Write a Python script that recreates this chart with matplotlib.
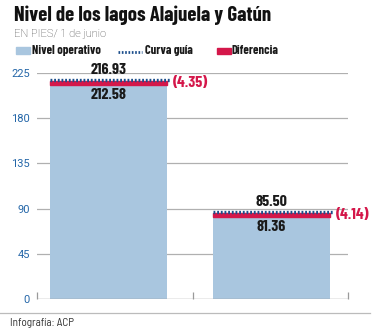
import matplotlib
matplotlib.use("Agg")
import matplotlib.pyplot as plt
from matplotlib.patches import Rectangle
from matplotlib.lines import Line2D

title = "Nivel de los lagos Alajuela y Gatún"
subtitle = "EN PIES/ 1 de junio"
source = "Infografía: ACP"
lakes = ["Alajuela", "Gatún"]
nivel_operativo = [212.58, 81.36]
curva_guia = [216.93, 85.50]
diferencia_labels = ["(4.35)", "(4.14)"]
yticks = [0, 45, 90, 135, 180, 225]
legend_labels = ["Nivel operativo", "Curva guía", "Diferencia"]

BLUE_BAR = "#a9c6df"
RED = "#d4174a"
DOT = "#1d4f8c"
TICK_BLUE = "#2466a8"
COND = ["Barlow Condensed", "DejaVu Sans"]
SANS = ["Roboto", "DejaVu Sans"]

fig = plt.figure(figsize=(3.75, 3.31), dpi=100)
W, H = 375, 331
ax = fig.add_axes([37 / W, 32 / H, 311 / W, 226 / H])

xpos = [0, 1]
width = 0.718
xl0, xl1 = -0.439, 1.469
ax.set_xlim(xl0, xl1)
ax.set_ylim(0, 225)

for y in yticks[1:]:
    ax.axhline(y, color="#b0b0b0", lw=0.9, zorder=0)
ax.axhline(0, color="#9a9a9a", lw=1.0, zorder=3)

ax.bar(xpos, nivel_operativo, width=width, color=BLUE_BAR, zorder=2)
diff = [c - n for c, n in zip(curva_guia, nivel_operativo)]
ax.bar(xpos, diff, bottom=nivel_operativo, width=width, color=RED,
       edgecolor=RED, linewidth=1.0, zorder=2)
for x, c, n, dl in zip(xpos, curva_guia, nivel_operativo, diferencia_labels):
    ax.plot([x - width / 2, x + width / 2 + 0.02], [c + 1.3, c + 1.3], color=DOT,
            lw=2.4, ls=(0, (0.55, 0.55)), solid_capstyle="butt",
            dash_capstyle="butt", zorder=4, clip_on=False)
    ax.text(x, c + 4, f"{c:.2f}", ha="center", va="bottom", fontsize=11.5,
            fontweight="bold", family=COND, color="#1a1a1a", clip_on=False)
    ax.text(x, n - 3, f"{n:.2f}", ha="center", va="top", fontsize=11.5,
            fontweight="bold", family=COND, color="#1a1a1a")
    ax.text(x + width / 2 + 0.035, (c + n) / 2, dl, ha="left", va="center",
            fontsize=11.5, fontweight="bold", family=COND, color=RED, clip_on=False)

for s in ax.spines.values():
    s.set_visible(False)
ax.set_yticks(yticks)
ax.set_yticklabels([str(v) for v in yticks], fontsize=8, color=TICK_BLUE,
                   family=SANS)
ax.tick_params(axis="y", length=0, pad=5)
ax.set_xticks([xl0 + 0.003, 0.518, xl1 - 0.003])
ax.set_xticklabels([])
ax.tick_params(axis="x", direction="in", length=5, color="#9a9a9a", width=0.9)

fig.text(14 / W, 1 - 21 / H, title, ha="left", va="baseline", fontsize=15,
         fontweight="bold", family=COND, color="#111111")
fig.text(14 / W, 1 - 37 / H, subtitle, ha="left", va="baseline", fontsize=8,
         family=SANS, fontweight="light", color="#444444")

lb = 1 - 54 / H
fig.patches.append(Rectangle((16 / W, 1 - 54 / H), 14 / W, 7 / H,
                             transform=fig.transFigure, color=BLUE_BAR))
fig.text(32 / W, lb, legend_labels[0], ha="left", va="baseline", fontsize=9,
         fontweight="bold", family=COND, color="#1a1a1a")
fig.lines.append(Line2D([118 / W, 142 / W], [1 - 51.5 / H, 1 - 51.5 / H],
                        transform=fig.transFigure, color=DOT, lw=2.0,
                        ls=(0, (0.6, 0.6))))
fig.text(145 / W, lb, legend_labels[1], ha="left", va="baseline", fontsize=9,
         fontweight="bold", family=COND, color="#1a1a1a")
fig.patches.append(Rectangle((217 / W, 1 - 54 / H), 14 / W, 6 / H,
                             transform=fig.transFigure, color=RED))
fig.text(232 / W, lb, legend_labels[2], ha="left", va="baseline", fontsize=9,
         fontweight="bold", family=COND, color="#1a1a1a")

fig.lines.append(Line2D([0, 370 / W], [1 - 313 / H, 1 - 313 / H],
                        transform=fig.transFigure, color="#bbbbbb", lw=0.9))
fig.text(10 / W, 1 - 326 / H, source, ha="left", va="baseline", fontsize=8,
         family=["Barlow Semi Condensed", "DejaVu Sans"], color="#333333")

fig.savefig("out.png", dpi=100)
